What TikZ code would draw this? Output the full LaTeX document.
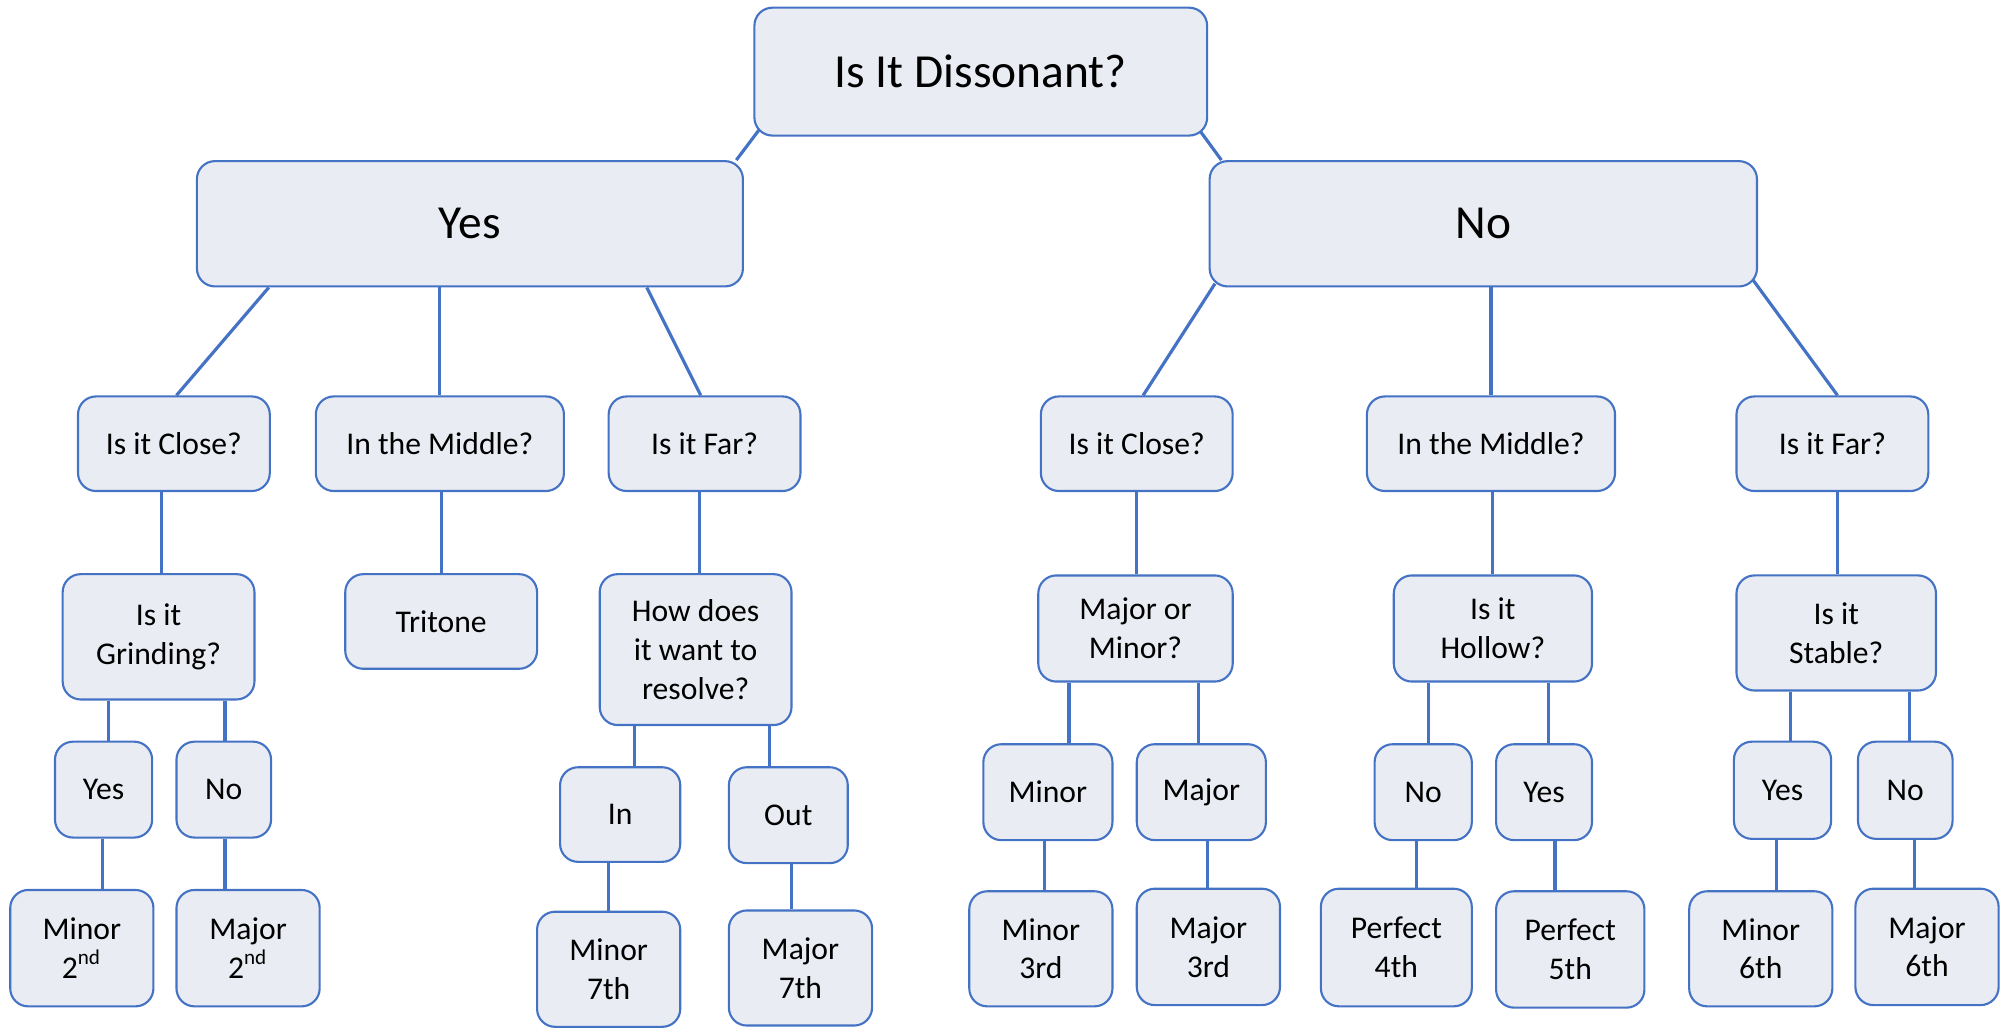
\documentclass[tikz,border=0pt]{standalone}
\usepackage{fontspec}
\setmainfont{Carlito}
\usetikzlibrary{backgrounds}
\definecolor{boxfill}{HTML}{E9ECF2}
\definecolor{boxline}{HTML}{4472C4}
\tikzset{
  box/.style={draw=boxline, line width=0.6pt, fill=boxfill, rounded corners=0.18cm,
    align=center, inner sep=0pt, font=\fontsize{9}{11}\selectfont},
  bigbox/.style={box, font=\fontsize{13.5}{16}\selectfont},
  link/.style={draw=boxline, line width=0.9pt}
}
\begin{document}
\begin{tikzpicture}[x=0.012787cm, y=-0.012787cm]
            \useasboundingbox (0,0) rectangle (1568,805);

            % top
            \node[bigbox, minimum width=4.527cm, minimum height=1.279cm] (root) at (767,56) {Is It Dissonant?};
            \node[bigbox, minimum width=5.46cm, minimum height=1.253cm] (yesb) at (367.5,175) {Yes};
            \node[bigbox, minimum width=5.473cm, minimum height=1.253cm] (nob) at (1160,175) {No};

            % dissonant side
            \node[box, minimum width=1.918cm, minimum height=0.946cm] (closeL) at (136,347) {Is it Close?};
            \node[box, minimum width=2.481cm, minimum height=0.946cm] (midL) at (344,347) {In the Middle?};
            \node[box, minimum width=1.918cm, minimum height=0.946cm] (farL) at (551,347) {Is it Far?};
            \node[box, minimum width=1.918cm, minimum height=1.253cm] (grind) at (124,498) {Is it\\Grinding?};
            \node[box, minimum width=1.918cm, minimum height=0.946cm] (tritone) at (345,486) {Tritone};
            \node[box, minimum width=1.918cm, minimum height=1.509cm] (how) at (544,508) {How does\\it want to\\resolve?};
            \node[box, minimum width=0.972cm, minimum height=0.959cm] (gyes) at (81,617.5) {Yes};
            \node[box, minimum width=0.946cm, minimum height=0.959cm] (gno) at (175,617.5) {No};
            \node[box, minimum width=1.202cm, minimum height=0.946cm] (in) at (485,637) {In};
            \node[box, minimum width=1.189cm, minimum height=0.959cm] (out) at (616.5,637.5) {Out};
            \node[box, minimum width=1.432cm, minimum height=1.164cm] (min2) at (64,741.5) {Minor\\2\textsuperscript{nd}};
            \node[box, minimum width=1.432cm, minimum height=1.164cm] (maj2) at (194,741.5) {Major\\2\textsuperscript{nd}};
            \node[box, minimum width=1.432cm, minimum height=1.151cm] (min7) at (476,758) {Minor\\7th};
            \node[box, minimum width=1.432cm, minimum height=1.151cm] (maj7) at (626,757) {Major\\7th};

            % consonant side
            \node[box, minimum width=1.918cm, minimum height=0.946cm] (closeR) at (889,347) {Is it Close?};
            \node[box, minimum width=2.481cm, minimum height=0.946cm] (midR) at (1166,347) {In the Middle?};
            \node[box, minimum width=1.918cm, minimum height=0.946cm] (farR) at (1433,347) {Is it Far?};
            \node[box, minimum width=1.944cm, minimum height=1.061cm] (majmin) at (888,491.5) {Major or\\Minor?};
            \node[box, minimum width=1.982cm, minimum height=1.061cm] (hollow) at (1167.5,491.5) {Is it\\Hollow?};
            \node[box, minimum width=1.995cm, minimum height=1.151cm] (stable) at (1436,495) {Is it\\Stable?};
            \node[box, minimum width=1.291cm, minimum height=0.959cm] (rminor) at (819.5,619.5) {Minor};
            \node[box, minimum width=1.291cm, minimum height=0.959cm] (rmajor) at (939.5,619.5) {Major};
            \node[box, minimum width=0.972cm, minimum height=0.959cm] (hno) at (1113,619.5) {No};
            \node[box, minimum width=0.959cm, minimum height=0.959cm] (hyes) at (1207.5,619.5) {Yes};
            \node[box, minimum width=0.972cm, minimum height=0.972cm] (syes) at (1394,618) {Yes};
            \node[box, minimum width=0.946cm, minimum height=0.972cm] (sno) at (1490,618) {No};
            \node[box, minimum width=1.432cm, minimum height=1.151cm] (min3) at (814,742) {Minor\\3rd};
            \node[box, minimum width=1.432cm, minimum height=1.164cm] (maj3) at (945,740.5) {Major\\3rd};
            \node[box, minimum width=1.509cm, minimum height=1.176cm] (p4) at (1092,741) {Perfect\\4th};
            \node[box, minimum width=1.483cm, minimum height=1.164cm] (p5) at (1228,742.5) {Perfect\\5th};
            \node[box, minimum width=1.432cm, minimum height=1.151cm] (min6) at (1377,742) {Minor\\6th};
            \node[box, minimum width=1.432cm, minimum height=1.164cm] (maj6) at (1507,740.5) {Major\\6th};

            \begin{scope}[on background layer]
            \draw[link] ([shift={(5,-6)}]root.south west) -- ([shift={(-6,0)}]yesb.north east);
            \draw[link] ([shift={(-6,-4)}]root.south east) -- ([shift={(10,0)}]nob.north west);

            \draw[link] ([shift={(57,0)}]yesb.south west) -- ([shift={(2,0)}]closeL.north);
            \draw[link] (midL.north |- yesb.south) -- (midL.north);
            \draw[link] ([shift={(-76,0)}]yesb.south east) -- ([shift={(-3,0)}]farL.north);
            \draw[link] ([shift={(5,-3)}]nob.south west) -- ([shift={(5,0)}]closeR.north);
            \draw[link] (midR.north |- nob.south) -- (midR.north);
            \draw[link] ([shift={(-4,-6)}]nob.south east) -- ([shift={(4,0)}]farR.north);

            \draw[link] ([shift={(2,0)}]grind.north |- closeL.south) -- ([shift={(2,0)}]grind.north);
            \draw[link] (tritone.north |- midL.south) -- (tritone.north);
            \draw[link] ([shift={(3,0)}]how.north |- farL.south) -- ([shift={(3,0)}]how.north);
            \draw[link] ([shift={(4,0)}]gyes.north |- grind.south) -- ([shift={(4,0)}]gyes.north);
            \draw[link] ([shift={(1,0)}]gno.north |- grind.south) -- ([shift={(1,0)}]gno.north);
            \draw[link] ([shift={(16,0)}]min2.north |- gyes.south) -- ([shift={(16,0)}]min2.north);
            \draw[link] ([shift={(-18,0)}]maj2.north |- gno.south) -- ([shift={(-18,0)}]maj2.north);
            \draw[link] ([shift={(11,0)}]in.north |- how.south) -- ([shift={(11,0)}]in.north);
            \draw[link] ([shift={(-14.5,0)}]out.north |- how.south) -- ([shift={(-14.5,0)}]out.north);
            \draw[link] (min7.north |- in.south) -- (min7.north);
            \draw[link] ([shift={(-7,0)}]maj7.north |- out.south) -- ([shift={(-7,0)}]maj7.north);

            \draw[link] ([shift={(1,0)}]majmin.north |- closeR.south) -- ([shift={(1,0)}]majmin.north);
            \draw[link] (hollow.north |- midR.south) -- (hollow.north);
            \draw[link] ([shift={(1,0)}]stable.north |- farR.south) -- ([shift={(1,0)}]stable.north);
            \draw[link] ([shift={(16.5,0)}]rminor.north |- majmin.south) -- ([shift={(16.5,0)}]rminor.north);
            \draw[link] ([shift={(-2.5,0)}]rmajor.north |- majmin.south) -- ([shift={(-2.5,0)}]rmajor.north);
            \draw[link] ([shift={(4,0)}]hno.north |- hollow.south) -- ([shift={(4,0)}]hno.north);
            \draw[link] ([shift={(3.5,0)}]hyes.north |- hollow.south) -- ([shift={(3.5,0)}]hyes.north);
            \draw[link] ([shift={(6,0)}]syes.north |- stable.south) -- ([shift={(6,0)}]syes.north);
            \draw[link] ([shift={(3,0)}]sno.north |- stable.south) -- ([shift={(3,0)}]sno.north);
            \draw[link] ([shift={(3,0)}]min3.north |- rminor.south) -- ([shift={(3,0)}]min3.north);
            \draw[link] ([shift={(-1,0)}]maj3.north |- rmajor.south) -- ([shift={(-1,0)}]maj3.north);
            \draw[link] ([shift={(16,0)}]p4.north |- hno.south) -- ([shift={(16,0)}]p4.north);
            \draw[link] ([shift={(-12,0)}]p5.north |- hyes.south) -- ([shift={(-12,0)}]p5.north);
            \draw[link] ([shift={(12,0)}]min6.north |- syes.south) -- ([shift={(12,0)}]min6.north);
            \draw[link] ([shift={(-10,0)}]maj6.north |- sno.south) -- ([shift={(-10,0)}]maj6.north);
            \end{scope}
        \end{tikzpicture}
\end{document}
